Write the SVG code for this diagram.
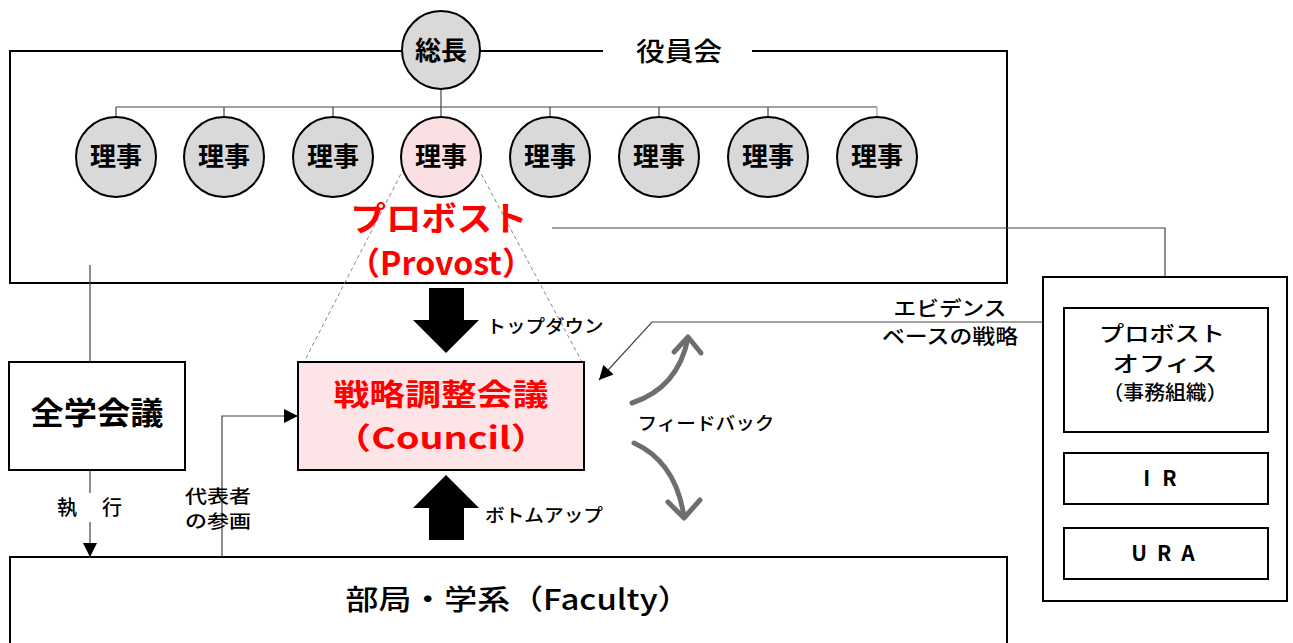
<svg xmlns="http://www.w3.org/2000/svg" width="1293" height="643" viewBox="0 0 1293 643">
<style>
text{font-family:"Noto Sans CJK JP","Noto Sans",sans-serif;font-weight:700;fill:#000;text-anchor:middle}
.red{fill:#ff0000}
.med{font-weight:500}
.box{fill:#fff;stroke:#000;stroke-width:2}
.thin{fill:none;stroke:#444;stroke-width:1.2}
.oval{fill:#d9d9d9;stroke:#000;stroke-width:2}
.fb{fill:none;stroke:#6e6e6e;stroke-width:5;stroke-linecap:round;stroke-linejoin:round}
</style>
<defs>
<marker id="ah2" viewBox="0 0 10 10" refX="10" refY="5" markerWidth="16" markerHeight="14" markerUnits="userSpaceOnUse" orient="auto">
<path d="M0,0 L10,5 L0,10 z" fill="#000"/>
</marker>
</defs>

<!-- Board of directors frame -->
<g id="board">
<path d="M403,51 H10 V283 H1007 V51 H752" fill="none" stroke="#000" stroke-width="2"/>
<line x1="480" y1="51" x2="603" y2="51" stroke="#000" stroke-width="2"/>
<text x="679" y="61" font-size="26" textLength="86" lengthAdjust="spacingAndGlyphs" class="med">役員会</text>
</g>

<!-- Faculty frame -->
<g id="faculty">
<path d="M10,643 V557 H1007 V643" fill="none" stroke="#000" stroke-width="2"/>
<text x="518" y="610" font-size="28" textLength="345" lengthAdjust="spacingAndGlyphs" class="med">部局・学系（Faculty）</text>
</g>

<!-- connectors -->
<g id="connectors">
<line x1="441" y1="90" x2="441" y2="117" class="thin"/>
<line x1="116" y1="107" x2="877" y2="107" class="thin"/>
<line x1="116" y1="107" x2="116" y2="117" class="thin"/>
<line x1="224" y1="107" x2="224" y2="117" class="thin"/>
<line x1="333" y1="107" x2="333" y2="117" class="thin"/>
<line x1="550" y1="107" x2="550" y2="117" class="thin"/>
<line x1="659" y1="107" x2="659" y2="117" class="thin"/>
<line x1="768" y1="107" x2="768" y2="117" class="thin"/>
<line x1="877" y1="107" x2="877" y2="117" stroke="#7aa6d6" stroke-width="1.2"/>
<!-- dashed projection -->
<line x1="404" y1="168" x2="304" y2="362" stroke="#888" stroke-width="1" stroke-dasharray="4,3"/>
<line x1="478" y1="168" x2="582" y2="362" stroke="#888" stroke-width="1" stroke-dasharray="4,3"/>
<!-- provost to office -->
<polyline points="552,228 1165,228 1165,277" class="thin"/>
<!-- board to general assembly -->
<line x1="90" y1="265" x2="90" y2="362" class="thin"/>
<!-- execution -->
<line x1="90" y1="470" x2="90" y2="493" class="thin"/>
<line x1="90" y1="522" x2="90" y2="557" class="thin" marker-end="url(#ah2)"/>
<!-- representative participation -->
<polyline points="222,557 222,416 298,416" class="thin" marker-end="url(#ah2)"/>
<!-- evidence -->
<polyline points="1043,322 652,322 599,380" class="thin" marker-end="url(#ah2)"/>
<!-- top-down / bottom-up thick arrows -->
<path d="M429,288 H464 V320 H479 L446,353 L413,320 H429 Z" fill="#000"/>
<path d="M429,540 H464 V508 H479 L446,475 L413,508 H429 Z" fill="#000"/>
<!-- feedback arcs -->
<path class="fb" d="M632,403 Q678,388 688,338"/>
<path class="fb" d="M674,352 L688,337 L701,353"/>
<path class="fb" d="M634,443 Q676,462 684,517"/>
<path class="fb" d="M668,502 L684,518 L700,500"/>
</g>

<!-- 総長 -->
<g id="president">
<ellipse cx="441" cy="50" rx="39" ry="39" class="oval"/>
<text x="441" y="60" font-size="26">総長</text>
</g>

<g id="directors">
<g id="d1"><ellipse cx="116" cy="157" rx="40" ry="40" class="oval"/><text x="116" y="166" font-size="26">理事</text></g>
<g id="d2"><ellipse cx="224" cy="157" rx="40" ry="40" class="oval"/><text x="224" y="166" font-size="26">理事</text></g>
<g id="d3"><ellipse cx="333" cy="157" rx="40" ry="40" class="oval"/><text x="333" y="166" font-size="26">理事</text></g>
<g id="d4"><ellipse cx="441" cy="157" rx="40" ry="40" fill="#fbe0e3" stroke="#000" stroke-width="2"/><text x="441" y="166" font-size="26">理事</text></g>
<g id="d5"><ellipse cx="550" cy="157" rx="40" ry="40" class="oval"/><text x="550" y="166" font-size="26">理事</text></g>
<g id="d6"><ellipse cx="659" cy="157" rx="40" ry="40" class="oval"/><text x="659" y="166" font-size="26">理事</text></g>
<g id="d7"><ellipse cx="768" cy="157" rx="40" ry="40" class="oval"/><text x="768" y="166" font-size="26">理事</text></g>
<g id="d8"><ellipse cx="877" cy="157" rx="40" ry="40" class="oval"/><text x="877" y="166" font-size="26">理事</text></g>
</g>

<g id="provost">
<text x="439" y="231" font-size="34" class="red" textLength="177" lengthAdjust="spacingAndGlyphs">プロボスト</text>
<text x="441" y="275" font-size="32" class="red" textLength="186" lengthAdjust="spacingAndGlyphs">（Provost）</text>
</g>

<g id="general-assembly">
<rect x="9" y="362" width="176" height="108" class="box"/>
<text x="97" y="424" font-size="31" textLength="133" lengthAdjust="spacingAndGlyphs">全学会議</text>
</g>

<g id="council">
<rect x="298" y="362" width="286" height="108" fill="#fce4e7" stroke="#000" stroke-width="2"/>
<text x="441" y="405" font-size="30" class="red" textLength="215" lengthAdjust="spacingAndGlyphs">戦略調整会議</text>
<text x="441" y="449" font-size="30" class="red" textLength="215" lengthAdjust="spacingAndGlyphs">（Council）</text>
</g>

<g id="office">
<rect x="1043" y="277" width="244" height="324" class="box"/>
<rect x="1064" y="308" width="204" height="124" class="box"/>
<text x="1162" y="341" font-size="21" textLength="126" lengthAdjust="spacingAndGlyphs" class="med">プロボスト</text>
<text x="1165" y="371" font-size="21" textLength="105" lengthAdjust="spacingAndGlyphs" class="med">オフィス</text>
<text x="1165" y="400" font-size="20" textLength="125" lengthAdjust="spacingAndGlyphs" class="med">（事務組織）</text>
<g id="ir">
<rect x="1064" y="453" width="204" height="51" class="box"/>
<text x="1166" y="486" font-size="21" letter-spacing="12">IR</text>
</g>
<g id="ura">
<rect x="1064" y="528" width="204" height="51" class="box"/>
<text x="1168" y="561" font-size="21" letter-spacing="10">URA</text>
</g>
</g>

<g id="labels">
<text x="545" y="333" font-size="18" textLength="117" lengthAdjust="spacingAndGlyphs" class="med">トップダウン</text>
<text x="544" y="522" font-size="18" textLength="118" lengthAdjust="spacingAndGlyphs" class="med">ボトムアップ</text>
<text x="706" y="430" font-size="18" textLength="137" lengthAdjust="spacingAndGlyphs" class="med">フィードバック</text>
<text x="950" y="316" font-size="20" textLength="113" lengthAdjust="spacingAndGlyphs" class="med">エビデンス</text>
<text x="950" y="344" font-size="20" textLength="136" lengthAdjust="spacingAndGlyphs" class="med">ベースの戦略</text>
<text x="67" y="515" font-size="20" class="med">執</text>
<text x="112" y="515" font-size="20" class="med">行</text>
<text x="218" y="503" font-size="18" textLength="66" lengthAdjust="spacingAndGlyphs" class="med">代表者</text>
<text x="218" y="528" font-size="18" textLength="66" lengthAdjust="spacingAndGlyphs" class="med">の参画</text>
</g>
</svg>
